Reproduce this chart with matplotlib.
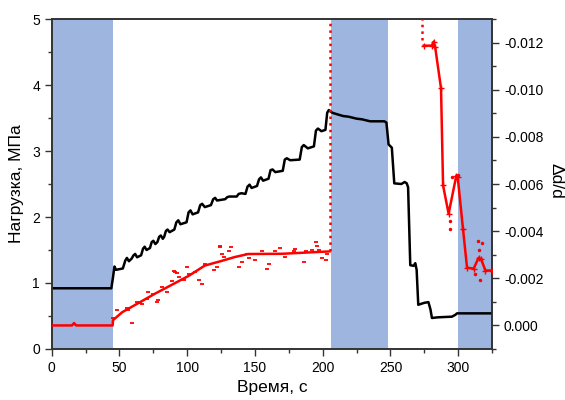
import matplotlib
matplotlib.use("Agg")
import matplotlib.pyplot as plt
from matplotlib.ticker import MultipleLocator, FormatStrFormatter

plt.rcParams["font.family"] = ["Liberation Sans", "DejaVu Sans"]

# shaded time intervals, s
bands = [(0, 45), (206, 248), (300, 325)]

# load curve (left axis): (time s, load MPa)
load_pts = [
    (0, 0.92), (44, 0.92), (45.2, 1.08), (46.3, 1.25), (47.5, 1.20), (52.5, 1.22),
    (54.3, 1.34), (55.5, 1.38), (57, 1.33),
    (59, 1.37), (60.4, 1.42), (61.6, 1.44), (63, 1.39),
    (66, 1.42), (67.4, 1.52), (68.6, 1.55), (70, 1.50),
    (72.5, 1.53), (73.8, 1.62), (75, 1.64), (76.5, 1.59),
    (78, 1.62), (79.3, 1.70), (80.5, 1.72), (82, 1.67),
    (83, 1.70), (84.3, 1.79), (85.5, 1.81), (87, 1.77),
    (90.5, 1.81), (92, 1.92), (93.4, 1.95), (95, 1.89),
    (99.5, 1.92), (101, 2.07), (102.4, 2.10), (104, 2.04),
    (108, 2.07), (109.6, 2.18), (111, 2.20), (113, 2.15),
    (117.5, 2.18), (119.2, 2.27), (120.6, 2.29), (122, 2.25),
    (128, 2.27), (129.5, 2.30), (131, 2.31),
    (136.5, 2.31), (138, 2.35), (140, 2.36), (143, 2.35),
    (144.5, 2.46), (146, 2.49), (147.5, 2.44),
    (151.5, 2.47), (153, 2.57), (154.4, 2.60), (156, 2.55),
    (160, 2.58), (161.5, 2.71), (163, 2.72), (165, 2.68),
    (170.5, 2.70), (172, 2.87), (173.5, 2.89), (176, 2.86),
    (183, 2.87), (184.6, 3.06), (186, 3.09), (189, 3.04),
    (193.5, 3.07), (195, 3.31), (196.5, 3.34), (199, 3.30),
    (202, 3.32), (203.3, 3.58), (204.5, 3.62), (207, 3.58),
    (211.7, 3.55), (215, 3.53), (219, 3.52), (225, 3.49), (229, 3.48),
    (235, 3.45), (245.5, 3.45), (247, 3.43), (248.6, 3.10), (251, 3.05),
    (252.8, 2.51), (258, 2.50), (260.5, 2.53), (262, 2.51), (263, 2.45),
    (264.6, 1.27), (267, 1.26), (268.3, 1.30), (269.3, 1.20), (270.5, 0.67),
    (275, 0.70), (278, 0.71), (279.5, 0.60), (280.6, 0.47), (285, 0.48),
    (295.4, 0.49), (298, 0.52), (299.1, 0.54), (325, 0.54),
]
load_t, load_v = zip(*load_pts)

# strain dd/d (right axis): fitted line
fit_t = [0, 15, 16.5, 18, 45, 45.2, 52, 76, 101, 113, 125, 135, 145, 170, 205]
fit_v = [0.0, 0.0, -0.0001, 0.0, 0.0, -0.00022, -0.00056, -0.00134, -0.0021,
         -0.00254, -0.00273, -0.0029, -0.00303, -0.00304, -0.00314]

# measured dd/d points, loading stage
pts_t = [45.5, 48.0, 55.4, 56.6, 59.1, 62.8, 65.3, 66.5, 70.2, 71.4, 75.1, 77.6,
         78.8, 81.3, 85.0, 88.7, 89.9, 91.2, 92.4, 93.6, 97.3, 99.8, 101.0, 106.0,
         108.4, 110.9, 113.4, 119.5, 121.8, 124.3, 124.4, 125.7, 126.9, 130.5,
         132.5, 137.9, 140.4, 144.1, 145.3, 150.3, 155.2, 158.9, 160.1, 165.1,
         168.8, 172.5, 178.6, 179.9, 186.0, 187.3, 192.2, 194.7, 195.9, 197.2,
         199.6, 202.1, 203.4]
pts_v = [-0.00033, -0.00064, -0.00075, -0.00066, -0.0001, -0.00099, -0.00095,
         -0.00089, -0.00113, -0.00141, -0.00134, -0.00099, -0.00106, -0.00162,
         -0.00141, -0.00188, -0.00233, -0.00226, -0.00222, -0.00205, -0.00194,
         -0.0025, -0.00219, -0.00226, -0.00194, -0.00177, -0.00262, -0.00236,
         -0.00247, -0.00336, -0.00332, -0.00304, -0.0029, -0.00314, -0.00332,
         -0.00247, -0.00268, -0.00304, -0.00286, -0.00279, -0.00314, -0.0024,
         -0.00262, -0.00314, -0.00328, -0.0029, -0.00314, -0.00325, -0.00271,
         -0.00314, -0.00318, -0.00356, -0.00336, -0.00318, -0.00286, -0.00276,
         -0.00304]

# unloading stage: line through points
unl_t = [274.5, 280.6, 281.8, 283, 287.3, 288.8, 292.9, 298.6, 299.6, 303.5,
         306.5, 311.4, 315, 317, 320, 325]
unl_v = [-0.01187, -0.01187, -0.01204, -0.0118, -0.01006, -0.00594, -0.00474,
         -0.00636, -0.0063, -0.0041, -0.00245, -0.00241, -0.00287, -0.0028,
         -0.00233, -0.00233]
unl_pts_t = [293.6, 293.8, 295.4, 299.6, 312.6, 314.3, 315.3, 316.3, 317.5]
unl_pts_v = [-0.00445, -0.0041, -0.0063, -0.0064, -0.0022, -0.00358, -0.0032,
             -0.00194, -0.0035]

fig = plt.figure(figsize=(5.65, 4.0), dpi=100)
ax = fig.add_axes([0.0915, 0.1275, 0.7795, 0.825])
ax2 = ax.twinx()

for a, b in bands:
    ax.axvspan(a, b, color="#9db5df", lw=0, zorder=0)

ax.plot(load_t, load_v, color="black", lw=1.8, zorder=3)

ax2.plot(fit_t, fit_v, color="red", lw=1.8, zorder=4)
ax2.plot(pts_t, pts_v, ls="none", marker="_", ms=3.5, mew=1.3, color="red", zorder=4)
ax2.plot([205.5, 205.5], [fit_v[-1], -0.013], color="red", lw=1.8, ls=":", zorder=4)
ax2.plot([273.2, 273.2], [-0.0121, -0.013], color="red", lw=1.8, ls=":", zorder=4)
ax2.plot(unl_t, unl_v, color="red", lw=1.8, marker="+", ms=4, zorder=4)
ax2.plot(unl_pts_t, unl_pts_v, ls="none", marker=".", ms=3, color="red", zorder=4)

ax.set_xlim(0, 325)
ax.set_ylim(0, 5)
ax2.set_ylim(0.001, -0.013)

ax.xaxis.set_major_locator(MultipleLocator(50))
ax.xaxis.set_minor_locator(MultipleLocator(25))
ax.yaxis.set_major_locator(MultipleLocator(1))
ax.yaxis.set_minor_locator(MultipleLocator(0.5))
ax2.yaxis.set_major_locator(MultipleLocator(0.002))
ax2.yaxis.set_minor_locator(MultipleLocator(0.001))
ax2.yaxis.set_major_formatter(FormatStrFormatter("%.3f"))

for a in (ax, ax2):
    a.tick_params(which="major", length=5, width=1, labelsize=10, color="#333333")
    a.tick_params(which="minor", length=3, width=1, color="#333333")
    for s in a.spines.values():
        s.set_color("#333333")
        s.set_linewidth(1.2)

ax.set_xlabel("Время, с", fontsize=12.5, labelpad=4)
ax.set_ylabel("Нагрузка, МПа", fontsize=12.5, labelpad=6)
ax2.set_ylabel("Δd/d", fontsize=12.5, rotation=270, ha="center", va="center")
ax2.yaxis.set_label_coords(1.145, 0.51)

fig.savefig("out.png", dpi=100)
